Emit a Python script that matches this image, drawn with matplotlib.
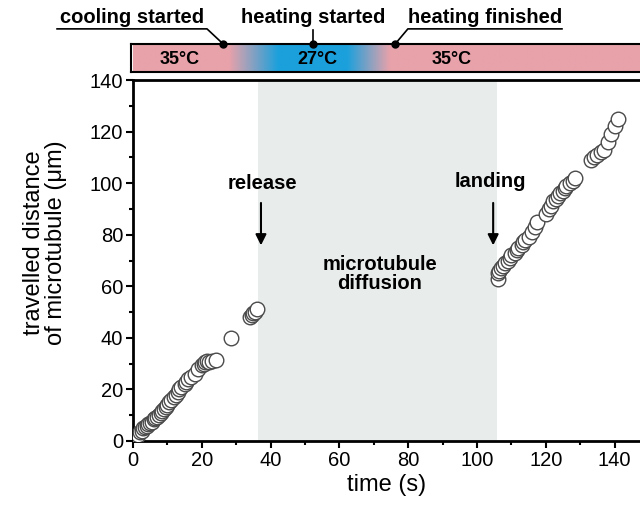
import numpy as np
import matplotlib.pyplot as plt
from matplotlib.colors import to_rgb

plt.rcParams['font.family'] = ['Liberation Sans', 'DejaVu Sans']

# before release (35 C)
t_before = [0.5, 1, 1.5, 2, 2.5, 3, 3.5, 4, 4.5, 5, 5.5, 6, 6.5, 7, 7.5, 8,
            8.5, 9, 9.5, 10, 10.5, 11, 12, 12.5, 13, 13.5, 14, 15, 15.5, 16,
            17, 18, 19, 20, 20.5, 21, 21.5, 22, 23, 24, 28.5, 34, 34.5, 35,
            35.5, 36]
d_before = [0.5, 1.5, 2.5, 3.5, 4, 5, 5.5, 6, 6.5, 7, 7.5, 8.5, 9, 9.5, 10,
            11, 11.5, 12.5, 13, 14, 15, 16, 17, 18, 19, 20, 21, 22, 23, 24,
            25, 26, 28, 29.5, 30, 30.5, 31, 30.5, 31, 31.5, 40, 48, 49, 49.5,
            50, 51]
# after landing
t_after = [106, 106, 106.5, 107, 107.5, 108, 109, 109.5, 110, 111, 111.5,
           112, 113, 113.5, 114, 115, 116, 117, 117.5,
           120, 121, 121.5, 122, 123, 123.5, 124, 125, 125.5, 126, 127, 128,
           128.5,
           133, 134, 135, 136, 137, 138, 139, 140, 141]
d_after = [63, 65, 66, 67, 68, 69, 70, 71, 72, 73, 74, 75, 76, 77, 78, 79,
           81, 83, 85,
           88, 90, 91, 93, 94, 95, 96, 97, 98, 99, 100, 101, 102,
           109, 110, 111, 112, 113, 116, 119, 122, 125]

diffusion_span = (36.3, 105.8)
# temperature bar: (time, colour) stops
temp_stops_t = [0, 27.9, 42.2, 62.2, 74.7, 150]
temp_stops_c = ['#e8a2aa', '#e8a2aa', '#1ba0dc', '#1ba0dc', '#e8a2aa', '#e8a2aa']
temp_labels = [(13.7, '35°C'), (53.5, '27°C'), (92.7, '35°C')]
events = {'cooling started': 26.2, 'heating started': 52.3,
          'heating finished': 76.2}

W, H = 640, 512
fig = plt.figure(figsize=(6.4, 5.12), dpi=100)
ax = fig.add_axes([133 / W, 1 - 441 / H, 1 - 133 / W, (441 - 80) / H])
xmax = (640 - 133) / 3.44

ax.axvspan(*diffusion_span, color='#e8ecea', zorder=0, lw=0)
ax.plot(t_before, d_before, 'o', ms=10.5, mfc='white', mec='#4a4a4a',
        mew=1.0, zorder=3)
ax.plot(t_after, d_after, 'o', ms=10.5, mfc='white', mec='#4a4a4a',
        mew=1.0, zorder=3)

ax.set_xlim(0, xmax)
ax.set_ylim(0, 140)
ax.set_xticks(np.arange(0, 141, 20))
ax.set_xticks(np.arange(10, 141, 20), minor=True)
ax.set_yticks(np.arange(0, 141, 20))
ax.set_yticks(np.arange(10, 141, 20), minor=True)
ax.tick_params(which='major', direction='out', length=5, width=1.5,
               labelsize=14.5, pad=2)
ax.tick_params(which='minor', direction='out', length=3, width=1.5)
ax.spines['right'].set_visible(False)
for s in ['left', 'bottom', 'top']:
    ax.spines[s].set_linewidth(2)

ax.set_xlabel('time (s)', fontsize=17, labelpad=3)
fig.text(45 / W, 1 - 243 / H, 'travelled distance\nof microtubule (μm)',
         rotation=90, ha='center', va='center', fontsize=17,
         linespacing=1.0)

bold = dict(fontweight='bold', fontsize=14.5)
ax.annotate('', xy=(37.2, 74.8), xytext=(37.2, 93.4),
            arrowprops=dict(arrowstyle='-|>', color='black', lw=1.5,
                            mutation_scale=16))
ax.text(37.7, 100, 'release', ha='center', va='center', **bold)
ax.annotate('', xy=(104.7, 74.8), xytext=(104.7, 93.4),
            arrowprops=dict(arrowstyle='-|>', color='black', lw=1.5,
                            mutation_scale=16))
ax.text(103.9, 100.8, 'landing', ha='center', va='center', **bold)
ax.text(71.8, 64.7, 'microtubule\ndiffusion', ha='center', va='center',
        linespacing=1.0, **bold)

# temperature bar
bar = fig.add_axes([131 / W, 1 - 72 / H, 1 - 131 / W, 28 / H])
xs = np.linspace(0, 150, 600)
rgb = np.array([to_rgb(c) for c in temp_stops_c])
grad = np.stack([np.interp(xs, temp_stops_t, rgb[:, k]) for k in range(3)],
                axis=-1)[None, :, :]
bar.imshow(grad, extent=(0, 150, 0, 1), aspect='auto')
bar.set_xlim(-0.6, xmax)
bar.set_ylim(0, 1)
bar.set_xticks([])
bar.set_yticks([])
for s in bar.spines.values():
    s.set_linewidth(1.5)
bar.spines['right'].set_visible(False)
for x, lab in temp_labels:
    bar.text(x, 0.45, lab, ha='center', va='center', fontweight='bold',
             fontsize=13)

yline = 1.54
ytext = 1.93
top = dict(fontweight='bold', fontsize=14.5, ha='center', va='center',
           clip_on=False)
c0 = events['cooling started']
bar.plot([-22.1, 21.5, c0], [yline, yline, 1.0], color='black', lw=1.2,
         clip_on=False)
bar.plot([c0], [1.0], 'o', color='black', ms=5, clip_on=False)
bar.text(-0.3, ytext, 'cooling started', **top)
h0 = events['heating started']
bar.plot([h0, h0], [1.5, 1.0], color='black', lw=1.2, clip_on=False)
bar.plot([h0], [1.0], 'o', color='black', ms=5, clip_on=False)
bar.text(h0, ytext, 'heating started', **top)
f0 = events['heating finished']
bar.plot([f0, 79.9, 124.7], [1.0, yline, yline], color='black', lw=1.2,
         clip_on=False)
bar.plot([f0], [1.0], 'o', color='black', ms=5, clip_on=False)
bar.text(102.3, ytext, 'heating finished', **top)

fig.savefig('out.png', dpi=100)
